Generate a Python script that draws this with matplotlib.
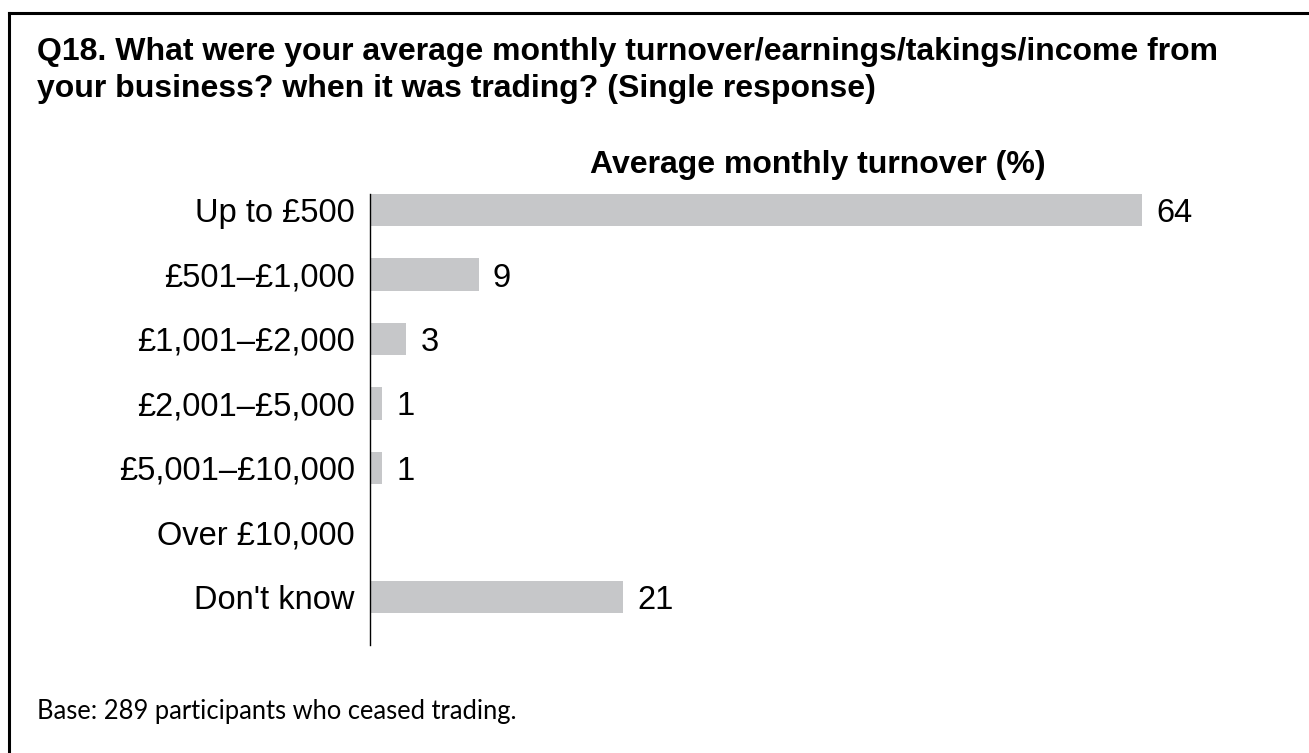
import matplotlib
matplotlib.use("Agg")
from matplotlib import pyplot as plt
from matplotlib.lines import Line2D

categories = ["Up to £500", "£501–£1,000", "£1,001–£2,000", "£2,001–£5,000",
              "£5,001–£10,000", "Over £10,000", "Don't know"]
values = [64, 9, 3, 1, 1, 0, 21]
value_labels = ["64", "9", "3", "1", "1", "", "21"]

title = ("Q18. What were your average monthly turnover/earnings/takings/income from\n"
         "your business? when it was trading? (Single response)")
subtitle = "Average monthly turnover (%)"
footer = "Base: 289 participants who ceased trading."

plt.rcParams["font.family"] = ["Liberation Sans", "DejaVu Sans"]

fig = plt.figure(figsize=(13.09, 7.53), dpi=100)
W, H = 1309, 753

# frame round the whole panel (top and left edges visible)
fig.add_artist(Line2D([9 / W, 9 / W], [0, 1 - 13 / H], color="black", lw=2.2,
                      transform=fig.transFigure))
fig.add_artist(Line2D([9 / W, 1], [1 - 13 / H, 1 - 13 / H], color="black", lw=2.2,
                      transform=fig.transFigure))

fig.text(37 / W, 1 - 37 / H, title, ha="left", va="top", fontsize=23,
         fontweight="bold", linespacing=1.3)

ax = fig.add_axes([370 / W, 1 - 645 / H, 844 / W, (645 - 194) / H])
y = list(range(len(categories)))
ax.barh(y, values, height=0.5, color="#c6c7c9")
ax.set_ylim(len(categories) - 0.5 + 0.25, -0.25)
ax.set_xlim(0, 70)
ax.set_yticks(y)
ax.set_yticklabels(categories, fontsize=23.5)
ax.tick_params(axis="y", length=0, pad=11)
ax.set_xticks([])
for s in ["top", "right", "bottom"]:
    ax.spines[s].set_visible(False)
ax.spines["left"].set_linewidth(1.0)

for yi, v, lab in zip(y, values, value_labels):
    if lab:
        ax.text(v + 1.2, yi, lab, va="center_baseline", ha="left", fontsize=23.5)

fig.text(818 / W, 1 - 165 / H, subtitle, ha="center", va="center",
         fontsize=23, fontweight="bold")

fig.text(37 / W, 1 - 712 / H, footer, ha="left", va="center", fontsize=18.4,
         family=["Lato", "DejaVu Sans"])

fig.savefig("out.png", dpi=100, facecolor="white")
